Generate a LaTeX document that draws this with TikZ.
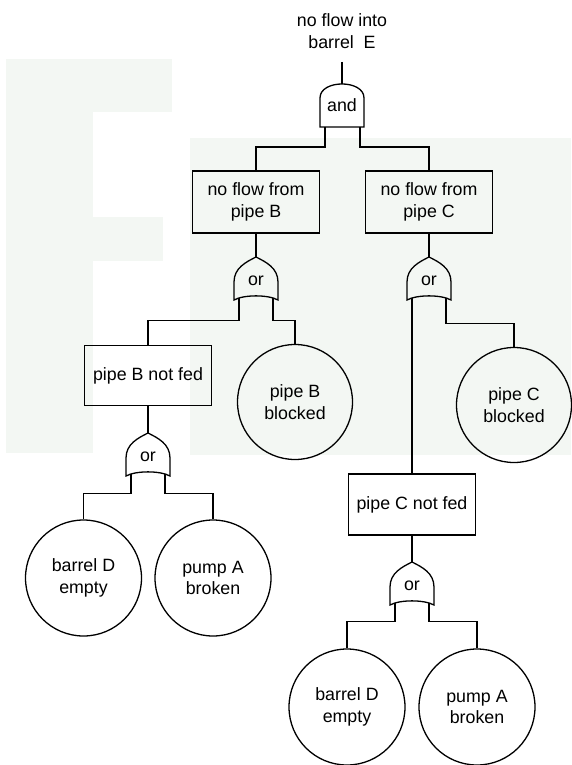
\documentclass[tikz,border=0pt]{standalone}
\usepackage{fontspec}
\setmainfont{Liberation Sans}
\usetikzlibrary{calc}
\definecolor{wm}{RGB}{243,247,243}
\newcommand\fs{\fontsize{17.8}{21.5}\selectfont}
\tikzset{
  ln/.style={line width=1.3pt, draw=black},
  evbox/.style={draw, line width=1.3pt, minimum width=127pt, minimum height=61pt, align=center, inner sep=0pt, font=\fs},
  basic/.style={draw, circle, line width=1.3pt, minimum size=116pt, align=center, inner sep=0pt, font=\fs},
  gatetext/.style={inner sep=0pt, font=\fs},
  wmark/.style={fill=wm, draw=none}
}
% or gate: #1 name, #2 tip position
\newcommand\orgate[2]{%
  \begin{scope}[shift={#2}]
    \draw[ln] (0,0) .. controls (10,5) and (22,11) .. (22,25) -- (22,43)
      .. controls (12,37.5) and (-12,37.5) .. (-22,43) -- (-22,25)
      .. controls (-22,11) and (-10,5) .. cycle;
    \node[gatetext] (#1) at (0,24) {or};
    \coordinate (#1-tip) at (0,0);
    \coordinate (#1-l) at (-17,40.5);
    \coordinate (#1-r) at (17,40.5);
  \end{scope}}
\begin{document}
\begin{tikzpicture}[x=1pt,y=-1pt]
\useasboundingbox (0,0) rectangle (571,765);
% faint watermark
\path[wmark] (6,59) rectangle (93,453);
\path[wmark] (93,59) rectangle (172,112);
\path[wmark] (93,217) rectangle (163,261);
\path[wmark] (190,138) rectangle (571,455);

% top event
\node[font=\fs, align=center, inner sep=0pt] (title) at (342,31) {no flow into\\barrel\ \ E};
\coordinate (topend) at (342,62);

% and gate
\begin{scope}[shift={(342,84)}]
  \draw[ln] (-22,43) -- (-22,14) .. controls (-22,-4.7) and (22,-4.7) .. (22,14) -- (22,43) -- cycle;
  \node[gatetext] (andg) at (0,21) {and};
  \coordinate (andg-tip) at (0,0);
  \coordinate (andg-l) at (-17,43);
  \coordinate (andg-r) at (18,43);
\end{scope}

% events
\node[evbox, minimum height=62pt] (pB) at (256,202) {no flow from\\pipe B};
\node[evbox, minimum height=62pt] (pC) at (429,202) {no flow from\\pipe C};
\node[evbox, minimum height=60pt] (nfB) at (148,375.5) {pipe B not fed};
\node[evbox, minimum height=61pt] (nfC) at (412,504.5) {pipe C not fed};

% basic events
\node[basic, minimum size=115pt] (blB) at (295,402) {pipe B\\blocked};
\node[basic, minimum size=115pt] (blC) at (514,405) {pipe C\\blocked};
\node[basic] (bdL) at (83.5,578) {barrel D\\empty};
\node[basic] (paL) at (213,578) {pump A\\broken};
\node[basic] (bdR) at (347,707) {barrel D\\empty};
\node[basic] (paR) at (477,707) {pump A\\broken};

% or gates
\orgate{orB}{(256,257)}
\orgate{orC}{(429,257)}
\orgate{orNB}{(148,433)}
\orgate{orNC}{(412,562)}

% connectors
\draw[ln] (topend) -- (andg-tip);
\draw[ln] (andg-l) -- ++(0,20) -| (pB.north);
\draw[ln] (andg-r) -- ++(0,20) -| (pC.north);

\draw[ln] (pB.south) -- (orB-tip);
\draw[ln] (orB-l) -- ++(0,23) -| (nfB.north);
\draw[ln] (orB-r) -- ++(0,23) -| (blB.north);

\draw[ln] (pC.south) -- (orC-tip);
\draw[ln] (orC-l) -- (orC-l |- nfC.north);
\draw[ln] (orC-r) -- ++(0,26) -| (blC.north);

\draw[ln] (nfB.south) -- (orNB-tip);
\draw[ln] (orNB-l) -- ++(0,20) -| (bdL.north);
\draw[ln] (orNB-r) -- ++(0,20) -| (paL.north);

\draw[ln] (nfC.south) -- (orNC-tip);
\draw[ln] (orNC-l) -- ++(0,19) -| (bdR.north);
\draw[ln] (orNC-r) -- ++(0,19) -| (paR.north);
\end{tikzpicture}
\end{document}
